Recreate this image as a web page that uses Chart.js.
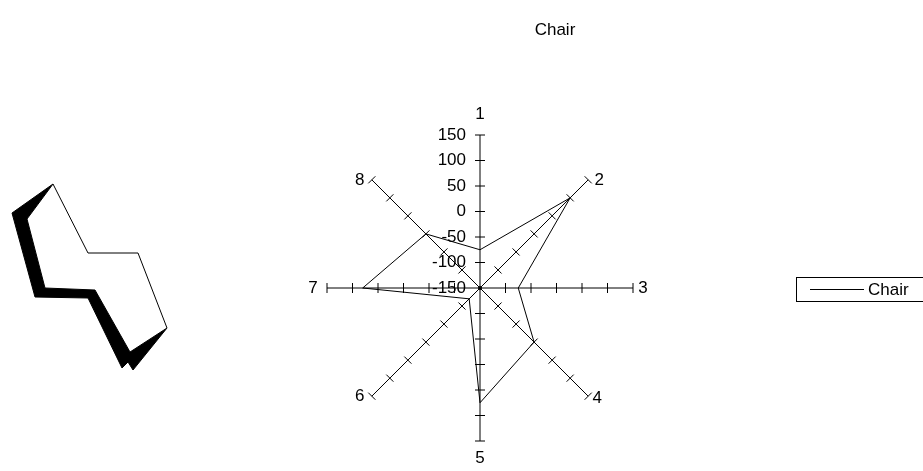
<!DOCTYPE html>
<html>
<head>
<meta charset="utf-8">
<script src="https://cdn.jsdelivr.net/npm/chart.js@4.4.1/dist/chart.umd.min.js"></script>
<style>
  html, body { margin: 0; padding: 0; background: #fff; }
  #page { position: relative; width: 923px; height: 471px; overflow: hidden; font-family: "Liberation Sans", Arial, sans-serif; }
  #radarChart { position: absolute; left: 0; top: 0; }
  #chairShape { position: absolute; left: 0; top: 170px; }
  #chartTitle { position: absolute; left: 455px; top: 20px; width: 200px; text-align: center; font-size: 17px; line-height: 20px; color: #000; }
  #legendBox { position: absolute; left: 796px; top: 277px; width: 150px; height: 23px; border: 1px solid #000; }
  #legendLine { position: absolute; left: 13px; top: 11px; width: 54px; border-top: 1px solid #000; }
  #legendText { position: absolute; left: 71px; top: 2px; font-size: 17px; line-height: 20px; color: #000; }
</style>
</head>
<body>
<div id="page">
  <canvas id="chairShape" width="180" height="210"></canvas>
  <canvas id="radarChart" width="923" height="471"></canvas>
  <div id="chartTitle">Chair</div>
  <div id="legendBox"><div id="legendLine"></div><div id="legendText"></div></div>
</div>
<script>
// radar data
const categories = ['1', '2', '3', '4', '5', '6', '7', '8'];
const chairValues = [-75, 100, -75, 0, 75, -120, 80, 0];
const tickValues = [150, 100, 50, 0, -50, -100, -150];

// chair drawing on the left (page coordinates)
const outlineX = [53, 88, 138, 167, 130, 95, 45, 27, 53];
const outlineY = [184, 253, 253, 328, 352, 290, 288, 219, 184];
const shadowX = [53, 12, 35, 88, 122, 128, 133, 167, 130, 95, 45, 27, 53];
const shadowY = [184, 213, 297, 298, 368, 362, 370, 328, 352, 290, 288, 219, 184];

const labelFont = '17px "Liberation Sans", Arial, sans-serif';
// offset of each category label from the end of its axis
const labelOffsets = [[0, -21], [11, 0], [10, 0], [9, 2], [0, 17], [-12, 0], [-14, 0], [-12, 0]];

function toPoints(xs, ys) {
    return xs.map((x, i) => ({ x: x, y: ys[i] }));
}

// Excel style axes: tick marks across every spoke, values on spoke 1
const excelAxes = {
    id: 'excelAxes',
    afterDraw(chart) {
        const scale = chart.scales.r;
        const ctx = chart.ctx;
        ctx.save();
        ctx.strokeStyle = '#000';
        ctx.lineWidth = 1;
        for (let i = 0; i < categories.length; i++) {
            const a = scale.getIndexAngle(i) - Math.PI / 2;
            const nx = -Math.sin(a), ny = Math.cos(a);
            tickValues.forEach(v => {
                if (v === scale.min) return;
                const p = scale.getPointPositionForValue(i, v);
                ctx.beginPath();
                ctx.moveTo(p.x + nx * 5, p.y + ny * 5);
                ctx.lineTo(p.x - nx * 5, p.y - ny * 5);
                ctx.stroke();
            });
        }
        // center dot
        ctx.fillStyle = '#000';
        ctx.beginPath();
        ctx.arc(scale.xCenter, scale.yCenter, 2, 0, Math.PI * 2);
        ctx.fill();

        ctx.font = labelFont;
        ctx.textBaseline = 'middle';
        ctx.textAlign = 'right';
        tickValues.forEach(v => {
            const p = scale.getPointPositionForValue(0, v);
            ctx.fillText(String(v), p.x - 14, p.y);
        });
        ctx.textAlign = 'center';
        categories.forEach((c, i) => {
            const p = scale.getPointPosition(i, scale.drawingArea);
            ctx.fillText(c, p.x + labelOffsets[i][0], p.y + labelOffsets[i][1]);
        });
        ctx.restore();
    }
};

const radar = new Chart(document.getElementById('radarChart'), {
    type: 'radar',
    data: {
        labels: categories,
        datasets: [{
            label: 'Chair',
            data: chairValues,
            borderColor: '#000',
            borderWidth: 1,
            fill: false,
            pointRadius: 0,
            pointHoverRadius: 0,
            tension: 0
        }]
    },
    options: {
        responsive: false,
        animation: false,
        layout: {
            padding: { left: 327, right: 290, top: 135, bottom: 30 }
        },
        plugins: {
            legend: { display: false },
            title: { display: false },
            tooltip: { enabled: false }
        },
        scales: {
            r: {
                min: -150,
                max: 150,
                ticks: { display: false, stepSize: 50 },
                grid: { display: false },
                angleLines: { display: true, color: '#000', lineWidth: 1 },
                pointLabels: { display: false }
            }
        }
    },
    plugins: [excelAxes]
});

document.getElementById('legendText').textContent = radar.data.datasets[0].label;

new Chart(document.getElementById('chairShape'), {
    type: 'scatter',
    data: {
        datasets: [{
            data: toPoints(outlineX, outlineY),
            showLine: true,
            borderColor: '#000',
            borderWidth: 1,
            backgroundColor: '#fff',
            fill: 'shape',
            pointRadius: 0,
            order: 0
        }, {
            data: toPoints(shadowX, shadowY),
            showLine: true,
            borderColor: '#000',
            borderWidth: 1,
            backgroundColor: '#000',
            fill: 'shape',
            pointRadius: 0,
            order: 1
        }]
    },
    options: {
        responsive: false,
        animation: false,
        plugins: {
            legend: { display: false },
            tooltip: { enabled: false }
        },
        scales: {
            x: { type: 'linear', display: false, min: 0, max: 180 },
            y: { type: 'linear', display: false, min: 170, max: 380, reverse: true }
        }
    }
});
</script>
</body>
</html>
